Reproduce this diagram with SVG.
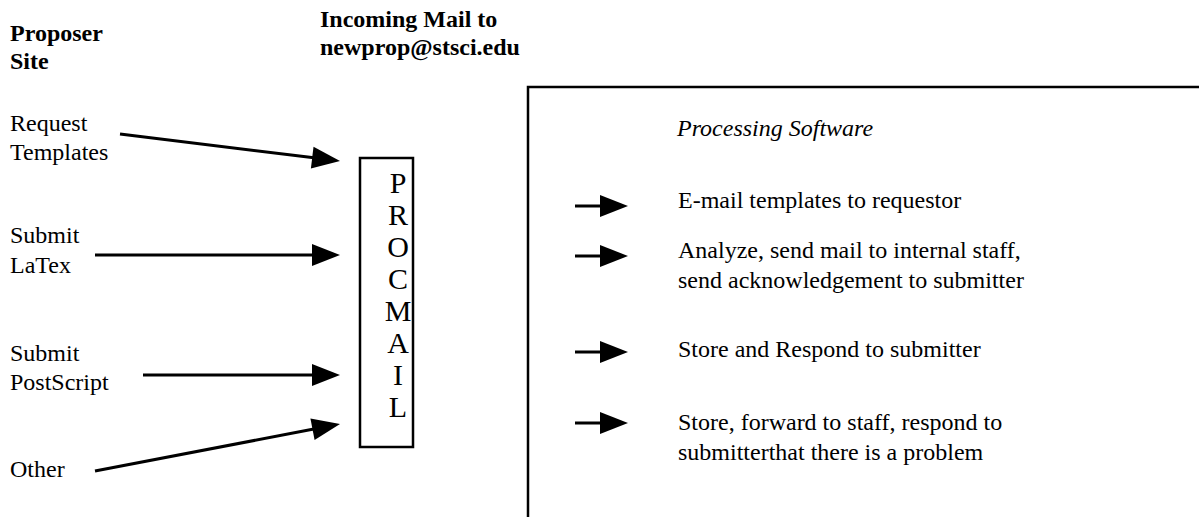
<svg xmlns="http://www.w3.org/2000/svg" width="1199" height="517" viewBox="0 0 1199 517">
  <style>
    text { font-family: "Liberation Serif", "Times New Roman", serif; fill: #000; }
    .head { font-size: 24px; font-weight: bold; }
    .lbl { font-size: 24px; }
    .title { font-size: 24px; font-style: italic; }
    .proc { font-size: 30px; text-anchor: middle; }
    .box { fill: none; stroke: #000; stroke-width: 2.5; }
    .conn { stroke: #000; stroke-width: 3; fill: none; }
  </style>
  <defs>
    <marker id="arrow" markerUnits="userSpaceOnUse" markerWidth="30" markerHeight="24" refX="8" refY="11" orient="auto" overflow="visible">
      <path d="M0,0 L28,11 L0,22 Z" fill="#000"/>
    </marker>
  </defs>

  <!-- column headings -->
  <g id="heading-proposer">
    <text class="head" x="10" y="41">Proposer</text>
    <text class="head" x="10" y="69">Site</text>
  </g>
  <g id="heading-incoming">
    <text class="head" x="320" y="27">Incoming Mail to</text>
    <text class="head" x="320" y="55">newprop@stsci.edu</text>
  </g>

  <!-- proposer-side sources -->
  <g id="src-request">
    <text class="lbl" x="10" y="131">Request</text>
    <text class="lbl" x="10" y="160">Templates</text>
  </g>
  <g id="src-latex">
    <text class="lbl" x="10" y="243">Submit</text>
    <text class="lbl" x="10" y="273">LaTex</text>
  </g>
  <g id="src-postscript">
    <text class="lbl" x="10" y="361">Submit</text>
    <text class="lbl" x="10" y="390">PostScript</text>
  </g>
  <g id="src-other">
    <text class="lbl" x="10" y="477">Other</text>
  </g>

  <!-- procmail filter -->
  <g id="procmail">
    <rect class="box" x="360" y="158" width="53" height="289"/>
    <text class="proc" x="398" y="193">P</text>
    <text class="proc" x="398" y="225">R</text>
    <text class="proc" x="398" y="257">O</text>
    <text class="proc" x="398" y="289">C</text>
    <text class="proc" x="398" y="321">M</text>
    <text class="proc" x="398" y="353">A</text>
    <text class="proc" x="398" y="385">I</text>
    <text class="proc" x="398" y="417">L</text>
  </g>

  <!-- processing software panel -->
  <g id="processing">
    <path class="box" d="M528,520 V87 H1202"/>
    <text class="title" x="677" y="136">Processing Software</text>
    <text class="lbl" x="678" y="208">E-mail templates to requestor</text>
    <text class="lbl" x="678" y="258">Analyze, send mail to internal staff,</text>
    <text class="lbl" x="678" y="288">send acknowledgement to submitter</text>
    <text class="lbl" x="678" y="357">Store and Respond to submitter</text>
    <text class="lbl" x="678" y="430">Store, forward to staff, respond to</text>
    <text class="lbl" x="678" y="460">submitterthat there is a problem</text>
  </g>

  <!-- connectors -->
  <g id="connectors">
    <line class="conn" x1="120" y1="134" x2="320.15" y2="158.56" marker-end="url(#arrow)"/>
    <line class="conn" x1="95" y1="255" x2="320" y2="255" marker-end="url(#arrow)"/>
    <line class="conn" x1="143" y1="375" x2="320" y2="375" marker-end="url(#arrow)"/>
    <line class="conn" x1="95" y1="471" x2="320.36" y2="427.77" marker-end="url(#arrow)"/>
    <line class="conn" x1="575" y1="206" x2="608" y2="206" marker-end="url(#arrow)"/>
    <line class="conn" x1="575" y1="256" x2="608" y2="256" marker-end="url(#arrow)"/>
    <line class="conn" x1="575" y1="352" x2="608" y2="352" marker-end="url(#arrow)"/>
    <line class="conn" x1="575" y1="423" x2="608" y2="423" marker-end="url(#arrow)"/>
  </g>
</svg>
